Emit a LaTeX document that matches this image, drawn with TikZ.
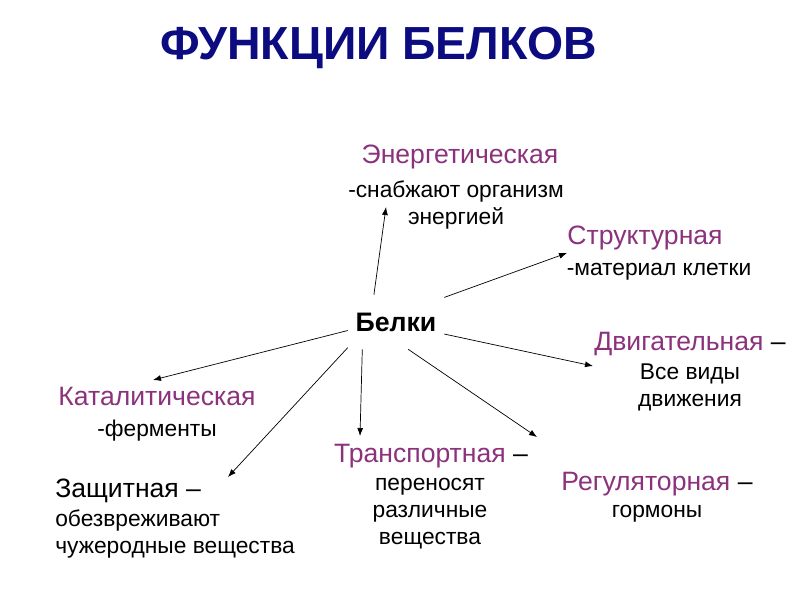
\documentclass[tikz,border=0pt]{standalone}
\usepackage{fontspec}
\setmainfont{Liberation Sans}
\usepackage{xcolor}
\usetikzlibrary{arrows.meta}

\definecolor{titleblue}{RGB}{12,12,128}
\definecolor{fnpurple}{RGB}{140,50,125}

\tikzset{
  fn/.style={text=fnpurple, font=\fontsize{18.9}{22}\selectfont, inner sep=0},
  desc/.style={font=\fontsize{16.2}{19.2}\selectfont, align=center, inner sep=0},
  arr/.style={-{Latex[length=2mm,width=1.5mm]}, line width=0.5pt},
}

\begin{document}
\begin{tikzpicture}[x=0.025cm, y=-0.025cm]
  \useasboundingbox[fill=white] (0,0) rectangle (800,600);

  \node[font=\fontsize{33}{38}\selectfont\bfseries, text=titleblue, inner sep=0] (title) at (379,48) {ФУНКЦИИ БЕЛКОВ};

  % centre
  \node[font=\fontsize{19}{22}\selectfont\bfseries, minimum width=2.4cm, minimum height=1.35cm, inner sep=0] (belki) at (396,322) {Белки};

  % functions
  \node[fn] (energ) at (460,157) {Энергетическая};
  \node[desc] (energtxt) at (456,205) {-снабжают организм\\энергией};
  \node[fn] (struct) at (645,238) {Структурная};
  \node[desc] (structtxt) at (659,272) {-материал клетки};
  \node[fn] (dvig) at (690,344) {Двигательная \textcolor{black}{–}};
  \node[desc] (dvigtxt) at (690,387) {Все виды\\движения};
  \node[fn] (katal) at (157,396) {Каталитическая};
  \node[desc] (kataltxt) at (157,431) {-ферменты};
  \node[fn, text=black, anchor=west] (zasch) at (55,491) {Защитная –};
  \node[desc, align=left, anchor=west] (zaschtxt) at (55,534) {обезвреживают\\чужеродные вещества};
  \node[fn] (transp) at (431,456) {Транспортная \textcolor{black}{–}};
  \node[desc] (transptxt) at (430,514) {переносят\\различные\\вещества};
  \node[fn] (regul) at (657,484) {Регуляторная \textcolor{black}{–}};
  \node[desc] (regultxt) at (657,514) {гормоны};

  % arrow tips
  \coordinate (tEn) at (386,207);
  \coordinate (tSt) at (567,253);
  \coordinate (tDv) at (593,366);
  \coordinate (tKa) at (153,380);
  \coordinate (tZa) at (228,477);
  \coordinate (tTr) at (360,436);
  \coordinate (tRe) at (537,437);

  \draw[arr] (belki.129) -- (tEn);
  \draw[arr] (belki.27) -- (tSt);
  \draw[arr] (belki.-14) -- (tDv);
  \draw[arr] (belki.190) -- (tKa);
  \draw[arr] (belki.208) -- (tZa);
  \draw[arr] (belki.219) -- (tTr);
  \draw[arr] (belki.294) -- (tRe);
\end{tikzpicture}
\end{document}
